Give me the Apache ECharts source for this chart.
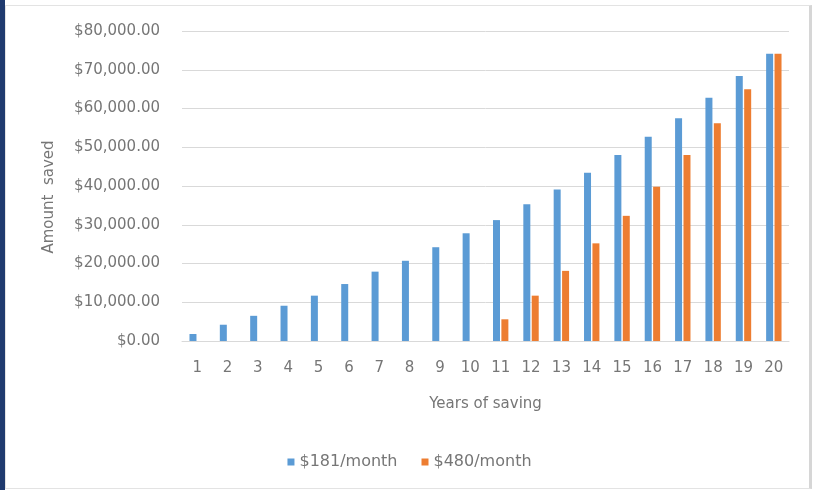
<!DOCTYPE html>
<html>
<head>
<meta charset="utf-8">
<script src="https://cdn.jsdelivr.net/npm/echarts@6/dist/echarts.min.js"></script>
<style>
  html, body { margin: 0; padding: 0; background: #fff; }
  #frame { position: absolute; left: 0; top: 0; width: 819px; height: 490px; box-sizing: border-box;
           border-left: 5px solid #1f3a6e; }
  #inner { position: absolute; left: 5px; top: 5px; width: 807px; height: 484px; box-sizing: border-box;
           border: 1px solid #e3e3e3; border-right: 3px solid #d6d6d6; }
  #chart { position: absolute; left: 0; top: 0; width: 819px; height: 490px; }
</style>
</head>
<body>
<div id="frame"></div>
<div id="inner"></div>
<div id="chart"></div>
<script>
// years 1..20
var years = ['1','2','3','4','5','6','7','8','9','10','11','12','13','14','15','16','17','18','19','20'];
var saved181 = [1800, 4200, 6500, 9100, 11700, 14700, 17900, 20700, 24200, 27800,
                31200, 35300, 39100, 43400, 48000, 52700, 57500, 62800, 68400, 74100];
var saved480 = [0, 0, 0, 0, 0, 0, 0, 0, 0, 0,
                5600, 11700, 18100, 25200, 32300, 39800, 48000, 56200, 65000, 74100];
var seriesNames = ['$181/month', '$480/month'];

var chart = echarts.init(document.getElementById('chart'));

function money(v) {
  return '$' + v.toLocaleString('en-US', { minimumFractionDigits: 2, maximumFractionDigits: 2 });
}

var txt = '#767676';
var font = '"DejaVu Sans", sans-serif';

var option = {
  backgroundColor: 'transparent',
  color: ['#5B9BD5', '#ED7D31'],
  textStyle: { fontFamily: font },
  grid: { left: 182, right: 30, top: 31, bottom: 149 },
  graphic: [{
    type: 'text',
    x: 42, y: 197,
    rotation: Math.PI / 2,
    style: {
      text: 'Amount  saved',
      fill: txt,
      font: '15px ' + font,
      align: 'center',
      verticalAlign: 'top'
    }
  }],
  legend: {
    bottom: 15,
    left: 'center',
    itemWidth: 7,
    itemHeight: 7,
    itemGap: 24,
    icon: 'rect',
    textStyle: { color: txt, fontSize: 16, fontFamily: font },
    data: seriesNames
  },
  xAxis: {
    type: 'category',
    data: years,
    name: 'Years of saving',
    nameLocation: 'middle',
    nameGap: 56,
    nameTextStyle: { color: txt, fontSize: 15, fontFamily: font },
    axisLine: { lineStyle: { color: '#d9d9d9' } },
    axisTick: { show: false },
    axisLabel: { color: txt, fontSize: 15, margin: 20, fontFamily: font }
  },
  yAxis: {
    type: 'value',
    min: 0,
    max: 80000,
    interval: 10000,
    axisLine: { show: false },
    axisTick: { show: false },
    splitLine: { lineStyle: { color: '#d9d9d9' } },
    axisLabel: { color: txt, fontSize: 15, margin: 22, fontFamily: font, formatter: money }
  },
  series: [
    { name: seriesNames[0], type: 'bar', data: saved181, barWidth: 7, barGap: '20%' },
    { name: seriesNames[1], type: 'bar', data: saved480, barWidth: 7, barGap: '20%' }
  ]
};

chart.setOption(option);
</script>
</body>
</html>
